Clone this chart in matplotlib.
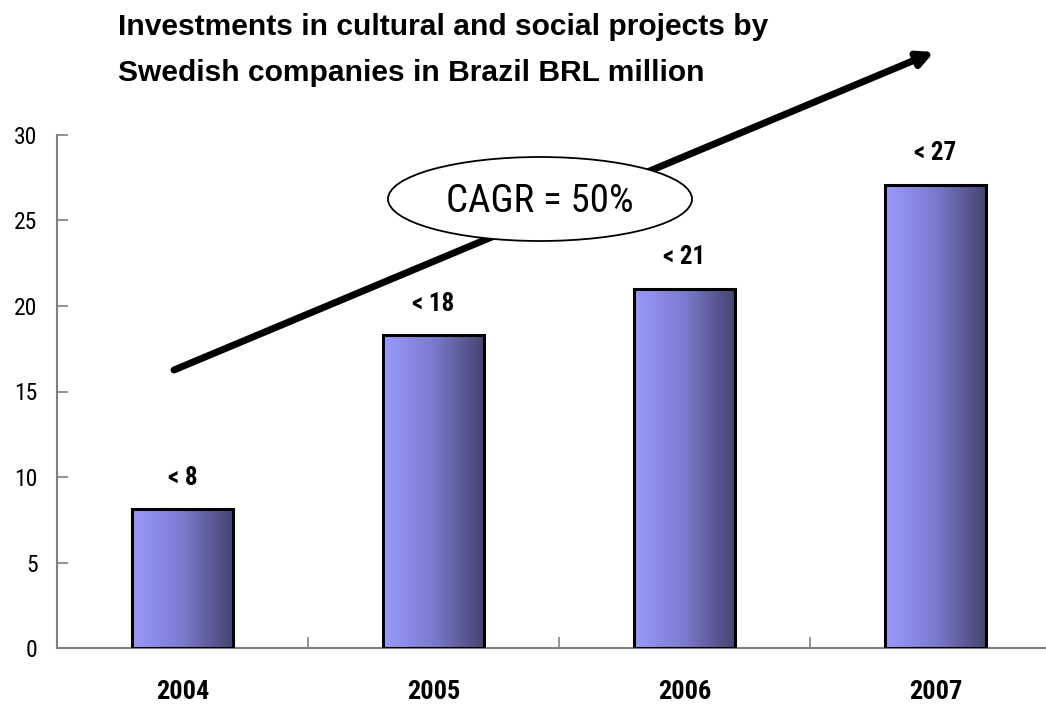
import matplotlib
matplotlib.use("Agg")
import matplotlib.pyplot as plt
import numpy as np
from matplotlib.colors import LinearSegmentedColormap
from matplotlib.patches import Ellipse
from matplotlib import font_manager

years = ["2004", "2005", "2006", "2007"]
values = [8.1, 18.3, 21.0, 27.1]
labels = ["< 8", "< 18", "< 21", "< 27"]
yticks = [0, 5, 10, 15, 20, 25, 30]
title_lines = ["Investments in cultural and social projects by",
               "Swedish companies in Brazil BRL million"]
cagr_text = "CAGR = 50%"

entries = font_manager.fontManager.ttflist
names = {f.name for f in entries}
fam = "Roboto Condensed" if "Roboto Condensed" in names else "Liberation Sans"
title_fam = "Liberation Sans" if "Liberation Sans" in names else fam
plt.rcParams['font.family'] = [fam, 'DejaVu Sans']

W, H = 1046, 709
fig = plt.figure(figsize=(W / 100, H / 100), dpi=100)
x0, x1 = 57, 1061
y0, y1 = 648, 135
ax = fig.add_axes([x0 / W, 1 - y0 / H, (x1 - x0) / W, (y0 - y1) / H])

cmap = LinearSegmentedColormap.from_list("g", ["#9a9aff", "#7a7acc", "#434370"])
grad = np.linspace(0, 1, 256).reshape(1, -1)
bw = 0.405
bars = ax.bar(range(len(values)), values, width=bw, color="none",
              edgecolor="black", linewidth=2.2, zorder=3)
for b in bars:
    im = ax.imshow(grad, cmap=cmap, aspect="auto", zorder=2,
                   extent=[b.get_x(), b.get_x() + b.get_width(), 0, b.get_height()])
    im.set_clip_path(b)
ax.set_xlim(-0.5, 3.5)
ax.set_ylim(0, 30)

for i, (v, lab) in enumerate(zip(values, labels)):
    ax.annotate(lab, (i, v), xytext=(0, 14), textcoords="offset points",
                ha="center", va="bottom", fontsize=18, fontweight="bold")

for s in ["top", "right"]:
    ax.spines[s].set_visible(False)
for s in ["left", "bottom"]:
    ax.spines[s].set_color("#808080")
    ax.spines[s].set_linewidth(1.5)

ax.set_yticks(yticks)
ax.set_yticklabels([str(t) for t in yticks], fontsize=17)
ax.tick_params(axis="y", direction="in", length=8, color="#808080", width=1.2, pad=14)
ax.set_xticks([0.5, 1.5, 2.5])
ax.set_xticklabels([])
ax.tick_params(axis="x", direction="in", length=8, color="#808080", width=1.2)
for i, y in enumerate(years):
    ax.text(i, -2.6, y, ha="center", va="center", fontsize=19, fontweight="bold")

for k, (line, base) in enumerate(zip(title_lines, [35, 81])):
    fig.text(118 / W, 1 - base / H, line, ha="left", va="baseline", fontsize=21.6,
             fontweight="bold", family=[title_fam, "DejaVu Sans"])

ax.annotate("", xy=(934 / W, 1 - 52 / H), xytext=(174 / W, 1 - 370 / H),
            xycoords="figure fraction", textcoords="figure fraction",
            arrowprops=dict(arrowstyle="-|>,head_length=0.9,head_width=0.45",
                            lw=5, color="black", shrinkA=0, shrinkB=0),
            zorder=4)

ell = Ellipse((540 / W, 1 - 199 / H), 304 / W, 84 / H, transform=fig.transFigure,
              facecolor="white", edgecolor="black", lw=1.3, zorder=5)
fig.patches.append(ell)
fig.text(540 / W, 1 - 201 / H, cagr_text, ha="center", va="center", fontsize=28, zorder=6)

fig.savefig("out.png", dpi=100)
